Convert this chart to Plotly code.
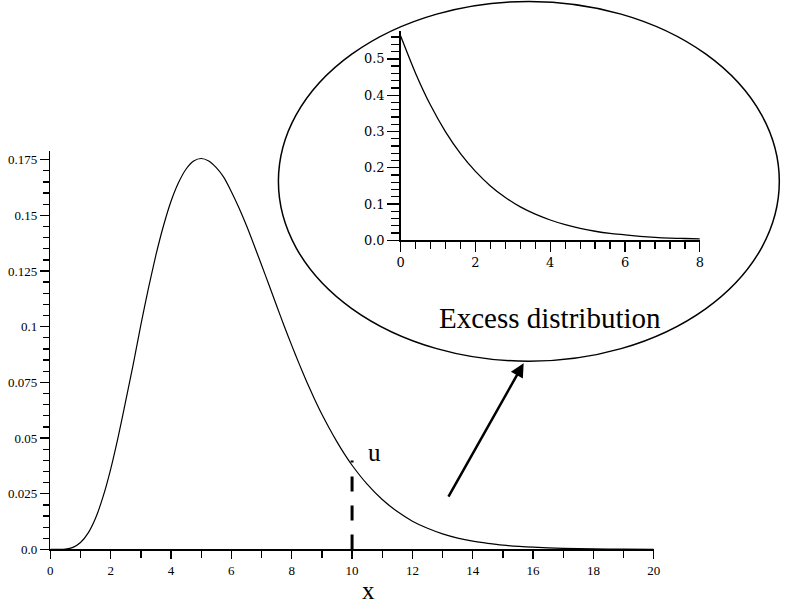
import plotly.graph_objects as go

W, H = 787, 614

# ---- data ----
main_x = [0, 0.25, 0.5, 0.75, 1, 1.25, 1.5, 1.75, 2, 2.25, 2.5, 2.75, 3, 3.25, 3.5, 3.75,
          4, 4.25, 4.5, 4.75, 5, 5.25, 5.5, 5.75, 6, 6.25, 6.5, 6.75, 7, 7.25, 7.5, 7.75,
          8, 8.25, 8.5, 8.75, 9, 9.25, 9.5, 9.75, 10, 10.5, 11, 11.5, 12, 12.5, 13, 13.5,
          14, 14.5, 15, 16, 17, 18, 19, 20]
main_y = [0.0, 0.00001, 0.00016, 0.00093, 0.0031, 0.0073, 0.0141, 0.0238, 0.0361, 0.0507,
          0.0668, 0.0833, 0.1008, 0.1172, 0.1322, 0.1453, 0.1563, 0.1647, 0.1708, 0.1744,
          0.1755, 0.1744, 0.1714, 0.1670, 0.1606, 0.1534, 0.1454, 0.1367, 0.1277, 0.1186,
          0.1094, 0.1003, 0.0916, 0.0832, 0.0752, 0.0677, 0.0607, 0.0543, 0.0483, 0.0428,
          0.0378, 0.0293, 0.0224, 0.0170, 0.0127, 0.0095, 0.0070, 0.0051, 0.0037, 0.0027,
          0.0019, 0.0010, 0.0005, 0.00024, 0.00012, 0.00006]

u_value = 10
u_mark_height = 0.0399

inset_x = [0, 0.4, 0.8, 1.2, 1.6, 2.0, 2.4, 2.8, 3.2, 3.6, 4.0, 4.4, 4.8, 5.2, 5.6,
           6.0, 6.4, 6.8, 7.2, 7.6, 8.0]
inset_y = [0.563, 0.460, 0.372, 0.299, 0.239, 0.190, 0.150, 0.118, 0.092, 0.072, 0.056,
           0.043, 0.033, 0.025, 0.019, 0.015, 0.011, 0.008, 0.006, 0.005, 0.004]

main_xtick_vals = [0, 2, 4, 6, 8, 10, 12, 14, 16, 18, 20]
main_xtick_text = ["0", "2", "4", "6", "8", "10", "12", "14", "16", "18", "20"]
main_ytick_vals = [0, 0.025, 0.05, 0.075, 0.1, 0.125, 0.15, 0.175]
main_ytick_text = ["0.0", "0.025", "0.05", "0.075", "0.1", "0.125", "0.15", "0.175"]
inset_xtick_vals = [0, 2, 4, 6, 8]
inset_xtick_text = ["0", "2", "4", "6", "8"]
inset_ytick_vals = [0, 0.1, 0.2, 0.3, 0.4, 0.5]
inset_ytick_text = ["0.0", "0.1", "0.2", "0.3", "0.4", "0.5"]

inset_label = "Excess distribution"
u_label = "u"
x_label = "x"


def px(x):
    return x / W


def py(y):
    return 1 - y / H


fig = go.Figure()

fig.add_trace(go.Scatter(x=main_x, y=main_y, mode="lines",
                         line=dict(color="black", width=1.2, shape="spline", smoothing=0.6),
                         xaxis="x", yaxis="y", showlegend=False, hoverinfo="skip"))

fig.add_trace(go.Scatter(x=[u_value, u_value], y=[0, u_mark_height], mode="lines",
                         line=dict(color="black", width=3, dash="15px,14px"),
                         xaxis="x", yaxis="y", showlegend=False, hoverinfo="skip"))

fig.add_trace(go.Scatter(x=inset_x, y=inset_y, mode="lines",
                         line=dict(color="black", width=1.3, shape="spline", smoothing=0.8),
                         xaxis="x2", yaxis="y2", showlegend=False, hoverinfo="skip"))

main_font = dict(family="Liberation Serif", size=13, color="black")
inset_font = dict(family="DejaVu Serif", size=13, color="black")

axis_common = dict(showgrid=False, zeroline=False, showline=True, linecolor="black",
                   linewidth=1.5, ticks="outside", tickcolor="black", tickwidth=1.3,
                   fixedrange=True)

fig.update_layout(
    width=W, height=H, autosize=False,
    margin=dict(l=0, r=0, t=0, b=0),
    paper_bgcolor="white", plot_bgcolor="rgba(0,0,0,0)",
    showlegend=False,
    xaxis=dict(axis_common, domain=[px(47), px(659)], range=[0, 20],
               tickmode="array", tickvals=main_xtick_vals, ticktext=main_xtick_text,
               ticklen=8, tickfont=main_font, anchor="y",
               minor=dict(dtick=1, tick0=0, ticklen=7, tickcolor="black",
                          tickwidth=1.3, ticks="outside", showgrid=False)),
    yaxis=dict(axis_common, domain=[py(556.7), py(152.7)], range=[0, 0.179],
               tickmode="array", tickvals=main_ytick_vals, ticktext=main_ytick_text,
               ticklen=9, tickfont=main_font, anchor="x",
               minor=dict(dtick=0.005, tick0=0, ticklen=6, tickcolor="black",
                          tickwidth=1.3, ticks="outside", showgrid=False)),
    xaxis2=dict(axis_common, domain=[px(402.3), px(705.7)], range=[0, 8],
                tickmode="array", tickvals=inset_xtick_vals, ticktext=inset_xtick_text,
                ticklen=10, tickfont=inset_font, anchor="y2",
                minor=dict(dtick=0.4, tick0=0, ticklen=7, tickcolor="black",
                           tickwidth=1.3, ticks="outside", showgrid=False)),
    yaxis2=dict(axis_common, domain=[py(243.5), py(31.7)], range=[0, 0.576],
                tickmode="array", tickvals=inset_ytick_vals, ticktext=inset_ytick_text,
                ticklen=12, tickfont=inset_font, anchor="x2",
                minor=dict(dtick=0.02, tick0=0, ticklen=8, tickcolor="black",
                           tickwidth=1.3, ticks="outside", showgrid=False)),
)

# ellipse around the inset
fig.add_shape(type="circle", xref="paper", yref="paper",
              x0=px(278.3), x1=px(786.3), y0=py(366), y1=py(1.5),
              line=dict(color="black", width=1.5), layer="below")

# arrow pointing to the inset
fig.add_annotation(xref="paper", yref="paper", x=px(527), y=py(368), text="",
                   showarrow=True, arrowhead=2, arrowsize=1.1, arrowwidth=2.5,
                   arrowcolor="black", ax=-76, ay=135, standoff=0)

fig.add_annotation(xref="paper", yref="paper", x=px(553.5), y=py(322), text=inset_label,
                   showarrow=False, font=dict(family="Liberation Serif", size=29, color="black"),
                   xanchor="center", yanchor="middle")
fig.add_annotation(xref="paper", yref="paper", x=px(376), y=py(458), text=u_label,
                   showarrow=False, font=dict(family="Liberation Serif", size=25, color="black"),
                   xanchor="center", yanchor="middle")
fig.add_annotation(xref="paper", yref="paper", x=px(370), y=py(598), text=x_label,
                   showarrow=False, font=dict(family="Liberation Serif", size=25, color="black"),
                   xanchor="center", yanchor="middle")

fig.write_html("out.html",
               config={"displayModeBar": False, "staticPlot": True},
               post_script="document.body.style.margin='0';document.body.style.overflow='hidden';")
